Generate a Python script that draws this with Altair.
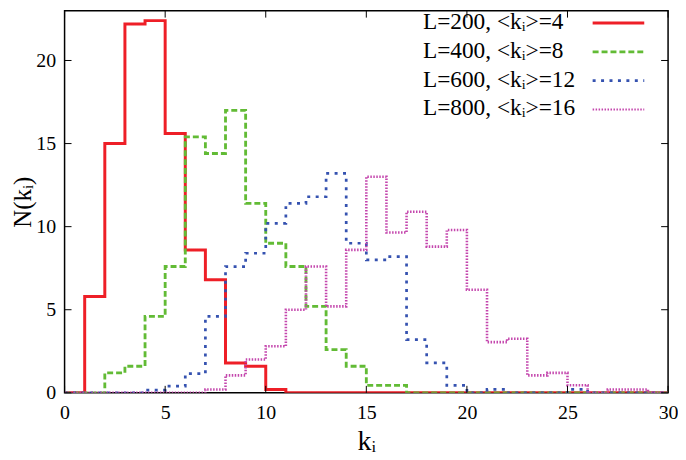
import altair as alt
import pandas as pd

# ---- data ----
k_bins = list(range(0, 30))          # bin left edges k = 0..29
series_names = ["L=200, <kᵢ>=4", "L=400, <kᵢ>=8", "L=600, <kᵢ>=12", "L=800, <kᵢ>=16"]
n_L200 = [0, 5.8, 15.0, 22.2, 22.4, 15.6, 8.6, 6.8, 1.8, 1.6,
          0.2, 0, 0, 0, 0, 0, 0, 0, 0, 0,
          0, 0, 0, 0, 0, 0, 0, 0, 0, 0]
n_L400 = [0, 0, 1.2, 1.6, 4.6, 7.6, 15.4, 14.4, 17.0, 11.4,
          9.0, 7.6, 5.2, 2.6, 1.6, 0.45, 0.45, 0, 0, 0,
          0, 0, 0, 0, 0, 0, 0, 0, 0, 0]
n_L600 = [0, 0, 0, 0, 0.16, 0.4, 1.15, 4.6, 7.6, 8.4,
          10.2, 11.4, 11.8, 13.2, 9.0, 8.0, 8.2, 3.2, 1.8, 0.45,
          0, 0.2, 0, 0, 0, 0.2, 0, 0, 0, 0]
n_L800 = [0, 0, 0, 0, 0, 0, 0, 0.2, 1.05, 2.0,
          2.8, 5.0, 7.6, 5.2, 8.6, 13.0, 9.65, 10.9, 8.8, 9.8,
          6.2, 3.05, 3.25, 1.05, 1.2, 0.45, 0, 0.2, 0.2, 0]
x_ticks = [0, 5, 10, 15, 20, 25, 30]
y_ticks = [0, 5, 10, 15, 20]

# ---- styles ----
colors = ["#ee1f27", "#62bb35", "#3552b0", "#c446ad"]
dashes = [[1, 0], [6, 3], [3, 5.5], [1.5, 1.5]]
widths = [3, 2.6, 3, 2]

W, H = 608, 385
FONT = "Liberation Serif"

all_vals = [n_L200, n_L400, n_L600, n_L800]
rows = []
for idx, (name, vals) in enumerate(zip(series_names, all_vals)):
    edges = k_bins + [k_bins[-1] + 1]
    for k, v in zip(edges, vals + [vals[-1]]):
        rows.append({"series": name, "k": k, "n": v, "idx": idx})
df = pd.DataFrame(rows)

x_scale = alt.Scale(domain=[0, 30], nice=False, zero=False)
y_scale = alt.Scale(domain=[0, 23], nice=False)
x_axis = alt.Axis(values=x_ticks, title="kᵢ", labelPadding=10, titlePadding=5, format="d",
                  titleFontSize=28, labelFlush=False)
y_axis = alt.Axis(values=y_ticks, title="N(kᵢ)", labelPadding=9, titlePadding=0, format="d",
                  titleFontSize=25, labelFlush=False)

lines = alt.Chart(df).mark_line(interpolate="step-after", clip=True).encode(
    x=alt.X("k:Q", scale=x_scale, axis=x_axis),
    y=alt.Y("n:Q", scale=y_scale, axis=y_axis),
    color=alt.Color("series:N", scale=alt.Scale(domain=series_names, range=colors), legend=None),
    strokeDash=alt.StrokeDash("series:N", scale=alt.Scale(domain=series_names, range=dashes), legend=None),
    strokeWidth=alt.StrokeWidth("series:N", scale=alt.Scale(domain=series_names, range=widths), legend=None),
    order=alt.Order("idx:Q"),
)

xt = pd.DataFrame({"t": x_ticks})
yt = pd.DataFrame({"t": y_ticks})
tick_len = 7
ticks = [
    alt.Chart(xt).mark_rule(color="black", strokeWidth=1).encode(
        x=alt.X("t:Q", scale=x_scale, axis=x_axis), y=alt.value(H), y2=alt.value(H - tick_len)),
    alt.Chart(xt).mark_rule(color="black", strokeWidth=1).encode(
        x=alt.X("t:Q", scale=x_scale, axis=x_axis), y=alt.value(0), y2=alt.value(tick_len)),
    alt.Chart(yt).mark_rule(color="black", strokeWidth=1).encode(
        y=alt.Y("t:Q", scale=y_scale, axis=y_axis), x=alt.value(0), x2=alt.value(tick_len)),
    alt.Chart(yt).mark_rule(color="black", strokeWidth=1).encode(
        y=alt.Y("t:Q", scale=y_scale, axis=y_axis), x=alt.value(W), x2=alt.value(W - tick_len)),
]

legend_layers = []
leg_y = [12.5, 41.5, 70.5, 99.5]
for i, name in enumerate(series_names):
    ldf = pd.DataFrame({"label": [name]})
    legend_layers.append(
        alt.Chart(ldf).mark_text(align="left", baseline="middle", font=FONT, fontSize=23.5, color="black").encode(
            text="label:N", x=alt.value(361), y=alt.value(leg_y[i] - 1)))
    legend_layers.append(
        alt.Chart(ldf).mark_rule(color=colors[i], strokeDash=dashes[i], strokeWidth=widths[i]).encode(
            x=alt.value(532), x2=alt.value(584), y=alt.value(leg_y[i])))

chart = alt.layer(lines, *ticks, *legend_layers).properties(
    width=W, height=H,
    autosize=alt.AutoSizeParams(type="none"),
    padding={"left": 57, "top": 1, "right": 10, "bottom": 62},
).configure_view(
    stroke="black", strokeWidth=1.5
).configure_axis(
    labelFont=FONT, titleFont=FONT, labelFontSize=20,
    labelColor="black", titleColor="black", titleFontWeight="normal",
    ticks=False, domain=False, grid=False,
)

chart.save("out.html", embed_options={"renderer": "svg", "actions": False})
